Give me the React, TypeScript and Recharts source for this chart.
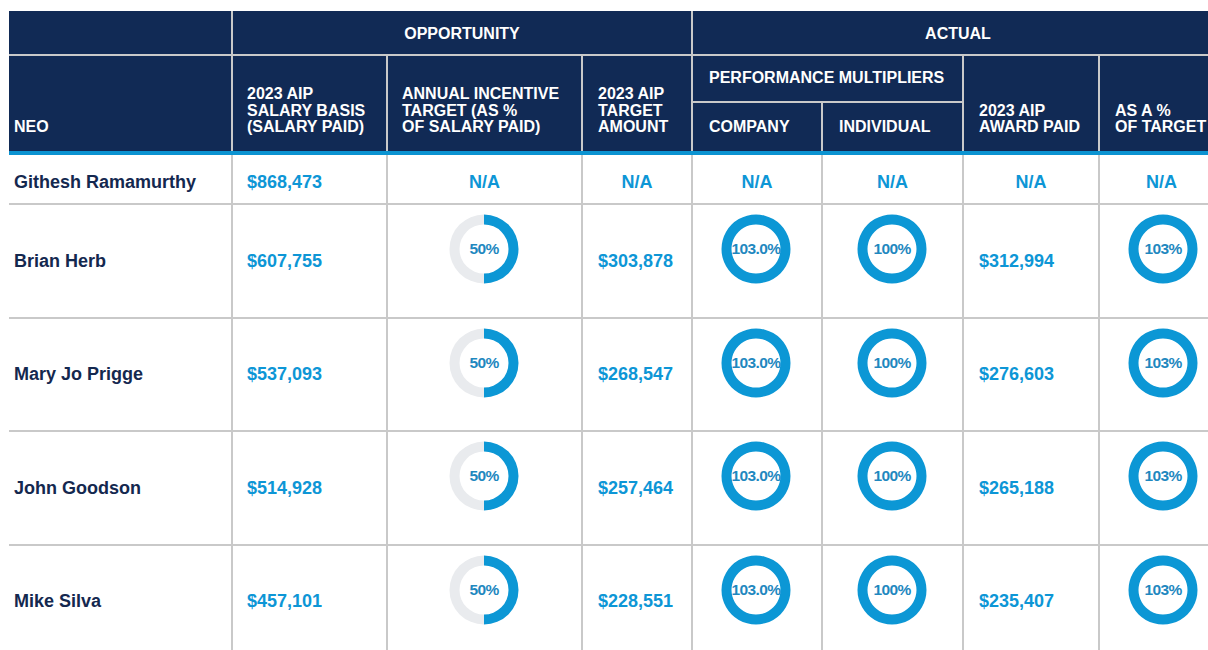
import React from 'react';
import { PieChart, Pie, Cell } from 'recharts';

// ---- data ----
const names = ['Githesh Ramamurthy', 'Brian Herb', 'Mary Jo Prigge', 'John Goodson', 'Mike Silva'];
const salaryBasis = [868473, 607755, 537093, 514928, 457101];
const targetPct: (number | null)[] = [null, 50, 50, 50, 50];
const targetAmount: (number | null)[] = [null, 303878, 268547, 257464, 228551];
const companyMult: (number | null)[] = [null, 103.0, 103.0, 103.0, 103.0];
const individualMult: (number | null)[] = [null, 100, 100, 100, 100];
const awardPaid: (number | null)[] = [null, 312994, 276603, 265188, 235407];
const pctOfTarget: (number | null)[] = [null, 103, 103, 103, 103];

const groupHeaders = ['OPPORTUNITY', 'ACTUAL'];
const colHeaders = [
  ['NEO'],
  ['2023 AIP', 'SALARY BASIS', '(SALARY PAID)'],
  ['ANNUAL INCENTIVE', 'TARGET (AS %', 'OF SALARY PAID)'],
  ['2023 AIP', 'TARGET', 'AMOUNT'],
  ['COMPANY'],
  ['INDIVIDUAL'],
  ['2023 AIP', 'AWARD PAID'],
  ['AS A %', 'OF TARGET'],
];
const subGroupHeader = 'PERFORMANCE MULTIPLIERS';

// ---- style ----
const NAVY = '#112a55';
const STRIPE = '#0b93d1';
const BLUE = '#0d96d6';
const RING = '#0c97d5';
const RING_BG = '#e9ebee';
const DONUT_TEXT = '#1f88bf';
const NAME = '#14284f';
const GRID = '#c9c9c9';
const FONT = '"Liberation Sans", Arial, Helvetica, sans-serif';

const X = (x: number) => x;
const Y = (y: number) => y;

const EDGES = [9, 232, 387, 582, 692, 822, 963, 1099, 1224];
const PAD = [5, 15, 15, 16, 17, 17, 16, 16];
const ROW_TOPS = [155, 203.5, 317.5, 431, 544.5];
const ROW_BOTS = [203.5, 317.5, 431, 544.5, 658];

const money = (v: number) => '$' + v.toLocaleString('en-US');

function HLine({ x1, x2, y, color = GRID }: { x1: number; x2: number; y: number; color?: string }) {
  return <div style={{ position: 'absolute', left: X(x1), top: Y(y) - 1, width: x2 - x1, height: 2, background: color }} />;
}
function VLine({ x, y1, y2, color = GRID }: { x: number; y1: number; y2: number; color?: string }) {
  return <div style={{ position: 'absolute', left: X(x) - 1, top: Y(y1), width: 2, height: y2 - y1, background: color }} />;
}

function Donut({ value, label, cx, cy }: { value: number; label: string; cx: number; cy: number }) {
  const raw = [
    { name: 'value', value: Math.min(value, 100), fill: RING },
    { name: 'rest', value: Math.max(100 - value, 0), fill: RING_BG },
  ];
  const data = raw.filter((d) => d.value > 0);
  return (
    <div style={{ position: 'absolute', left: X(cx) - 40, top: Y(cy) - 40, width: 80, height: 80 }}>
      <PieChart width={80} height={80} margin={{ top: 0, right: 0, bottom: 0, left: 0 }}>
        <Pie
          data={data}
          dataKey="value"
          cx="50%"
          cy="50%"
          innerRadius={24.5}
          outerRadius={34.5}
          startAngle={90}
          endAngle={-270}
          stroke="none"
          isAnimationActive={false}
        >
          {data.map((d, i) => (
            <Cell key={i} fill={d.fill} />
          ))}
        </Pie>
      </PieChart>
      <div
        style={{
          position: 'absolute',
          left: 0,
          top: 0,
          width: 80,
          height: 80,
          display: 'flex',
          alignItems: 'center',
          justifyContent: 'center',
          fontFamily: FONT,
          fontWeight: 700,
          fontSize: 15.5,
          letterSpacing: -0.6,
          color: DONUT_TEXT,
          pointerEvents: 'none',
        }}
      >
        {label}
      </div>
    </div>
  );
}

function CellText({
  col,
  cy,
  text,
  color,
  center,
}: {
  col: number;
  cy: number;
  text: string;
  color: string;
  center?: boolean;
}) {
  const l = EDGES[col];
  const r = EDGES[col + 1];
  return (
    <div
      style={{
        position: 'absolute',
        left: X(l) + (center ? 0 : PAD[col]),
        width: center ? r - l : r - l - PAD[col],
        top: Y(cy) - 12,
        height: 24,
        lineHeight: '24px',
        textAlign: center ? 'center' : 'left',
        fontFamily: FONT,
        fontWeight: 700,
        fontSize: 18,
        color,
        whiteSpace: 'nowrap',
      }}
    >
      {text}
    </div>
  );
}

export default function App() {
  const headerText: React.CSSProperties = {
    position: 'absolute',
    fontFamily: FONT,
    fontWeight: 700,
    fontSize: 16,
    lineHeight: '16.5px',
    color: '#ffffff',
    whiteSpace: 'nowrap',
  };

  const HEAD_BOTTOM = 135.75;

  return (
    <div style={{ position: 'fixed', left: 0, top: 0, width: 1208, height: 650, overflow: 'hidden', background: '#fff' }}>
      {/* header background */}
      <div style={{ position: 'absolute', left: X(9), top: Y(11), width: 1224 - 9, height: 151 - 11, background: NAVY }} />
      <div style={{ position: 'absolute', left: X(9), top: Y(151), width: 1224 - 9, height: 4, background: STRIPE }} />

      {/* header lines */}
      <HLine x1={9} x2={1224} y={55} />
      <HLine x1={692} x2={963} y={102} />
      <VLine x={232} y1={11} y2={151} />
      <VLine x={692} y1={11} y2={151} />
      <VLine x={387} y1={56} y2={151} />
      <VLine x={582} y1={56} y2={151} />
      <VLine x={822} y1={103} y2={151} />
      <VLine x={963} y1={56} y2={151} />
      <VLine x={1099} y1={56} y2={151} />

      {/* group headers */}
      <div style={{ ...headerText, left: X(232), width: 692 - 232, top: Y(12), height: 44, lineHeight: '44px', textAlign: 'center' }}>
        {groupHeaders[0]}
      </div>
      <div style={{ ...headerText, left: X(692), width: 1224 - 692, top: Y(12), height: 44, lineHeight: '44px', textAlign: 'center' }}>
        {groupHeaders[1]}
      </div>
      <div style={{ ...headerText, left: X(692) + PAD[4], top: Y(56), height: 44, lineHeight: '43px' }}>{subGroupHeader}</div>

      {/* column headers */}
      {colHeaders.map((lines, i) => (
        <div
          key={i}
          style={{
            ...headerText,
            left: X(EDGES[i]) + PAD[i],
            top: Y(56),
            height: HEAD_BOTTOM - 56,
            display: 'flex',
            flexDirection: 'column',
            justifyContent: 'flex-end',
          }}
        >
          {lines.map((t, j) => (
            <div key={j}>{t}</div>
          ))}
        </div>
      ))}

      {/* body lines */}
      {ROW_BOTS.map((y, i) => (
        <HLine key={'h' + i} x1={9} x2={1224} y={y} />
      ))}
      {EDGES.slice(1, 8).map((x, i) => (
        <VLine key={'v' + i} x={x} y1={155} y2={660} />
      ))}

      {/* body rows */}
      {names.map((n, r) => {
        const cy = r === 0 ? 181.5 : (ROW_TOPS[r] + ROW_BOTS[r]) / 2;
        const dy = cy - 11.5;
        const center = (c: number) => (EDGES[c] + EDGES[c + 1]) / 2;
        const tp = targetPct[r];
        const ta = targetAmount[r];
        const cm = companyMult[r];
        const im = individualMult[r];
        const ap = awardPaid[r];
        const pt = pctOfTarget[r];
        return (
          <React.Fragment key={r}>
            <CellText col={0} cy={cy} text={n} color={NAME} />
            <CellText col={1} cy={cy} text={money(salaryBasis[r])} color={BLUE} />
            {tp === null ? (
              <CellText col={2} cy={cy} text="N/A" color={BLUE} center />
            ) : (
              <Donut value={tp} label={tp + '%'} cx={center(2) - 0.5} cy={dy} />
            )}
            {ta === null ? (
              <CellText col={3} cy={cy} text="N/A" color={BLUE} center />
            ) : (
              <CellText col={3} cy={cy} text={money(ta)} color={BLUE} />
            )}
            {cm === null ? (
              <CellText col={4} cy={cy} text="N/A" color={BLUE} center />
            ) : (
              <Donut value={cm} label={cm.toFixed(1) + '%'} cx={center(4) - 1} cy={dy} />
            )}
            {im === null ? (
              <CellText col={5} cy={cy} text="N/A" color={BLUE} center />
            ) : (
              <Donut value={im} label={im + '%'} cx={center(5) - 0.5} cy={dy} />
            )}
            {ap === null ? (
              <CellText col={6} cy={cy} text="N/A" color={BLUE} center />
            ) : (
              <CellText col={6} cy={cy} text={money(ap)} color={BLUE} />
            )}
            {pt === null ? (
              <CellText col={7} cy={cy} text="N/A" color={BLUE} center />
            ) : (
              <Donut value={pt} label={pt + '%'} cx={center(7) + 1.5} cy={dy} />
            )}
          </React.Fragment>
        );
      })}
    </div>
  );
}
